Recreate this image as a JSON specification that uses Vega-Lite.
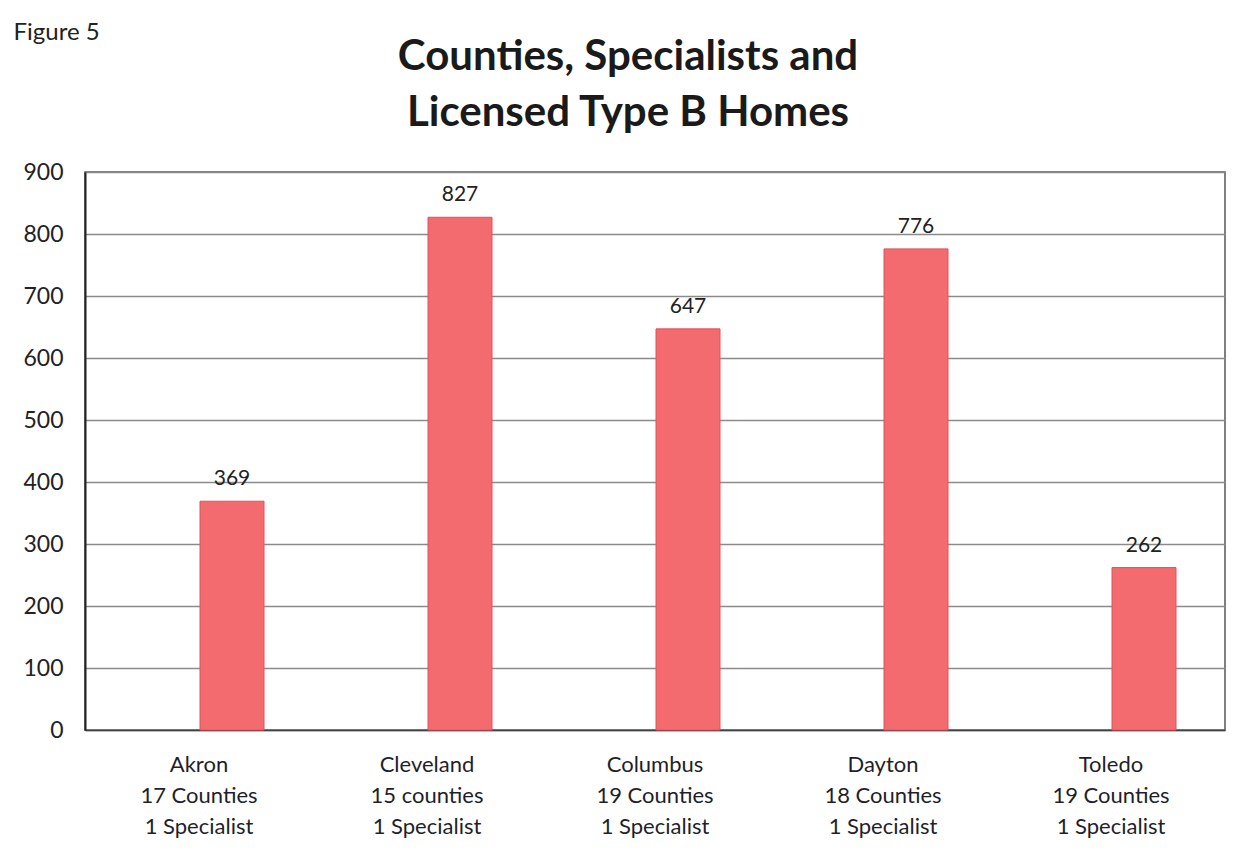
{
  "$schema": "https://vega.github.io/schema/vega-lite/v6.json",
  "width": 1140,
  "height": 558,
  "autosize": "none",
  "padding": {"left": 85, "top": 172, "right": 25, "bottom": 122},
  "background": "white",
  "config": {
    "font": "Lato",
    "view": {"stroke": "#555555", "strokeWidth": 1.5}
  },
  "title": {
    "text": ["Counties, Specialists and", "Licensed Type B Homes"],
    "fontSize": 42,
    "fontWeight": "bold",
    "font": "Lato",
    "color": "#1a1a1a",
    "anchor": "middle",
    "dx": -27,
    "offset": -115,
    "lineHeight": 56
  },
  "data": {
    "values": [
      {"label": "Akron|17 Counties|1 Specialist", "homes": 369},
      {"label": "Cleveland|15 counties|1 Specialist", "homes": 827},
      {"label": "Columbus|19 Counties|1 Specialist", "homes": 647},
      {"label": "Dayton|18 Counties|1 Specialist", "homes": 776},
      {"label": "Toledo|19 Counties|1 Specialist", "homes": 262}
    ]
  },
  "encoding": {
    "x": {
      "field": "label",
      "type": "nominal",
      "sort": null,
      "scale": {"paddingInner": 0, "paddingOuter": 0},
      "axis": {
        "title": null,
        "labelAngle": 0,
        "labelExpr": "split(datum.label, '|')",
        "labelFontSize": 22,
        "labelLineHeight": 31,
        "labelColor": "#1f1f2a",
        "labelPadding": 24,
        "labelFont": "Lato",
        "ticks": false,
        "domain": true,
        "domainColor": "#444444",
        "domainWidth": 1.5,
        "grid": false
      }
    },
    "y": {
      "field": "homes",
      "type": "quantitative",
      "scale": {"domain": [0, 900], "nice": false},
      "axis": {
        "values": [0, 100, 200, 300, 400, 500, 600, 700, 800, 900],
        "title": "Figure 5",
        "titleAngle": 0,
        "titleAlign": "left",
        "titleBaseline": "middle",
        "titleX": -72,
        "titleY": -140,
        "titleFontSize": 24,
        "titleFontWeight": "normal",
        "titleColor": "#222222",
        "labelFontSize": 23,
        "labelColor": "#222222",
        "labelPadding": 22,
        "ticks": false,
        "domainColor": "#222222",
        "domainWidth": 2,
        "gridColor": "#8a8a8a",
        "gridWidth": 1.3
      }
    }
  },
  "layer": [
    {
      "mark": {"type": "bar", "size": 64, "xOffset": 33, "fill": "#F36A6F", "stroke": "#E4505B", "strokeWidth": 1}
    },
    {
      "mark": {"type": "text", "xOffset": 33, "dy": -12, "fontSize": 21, "color": "#222222", "baseline": "bottom", "font": "Lato"},
      "encoding": {"text": {"field": "homes", "type": "quantitative"}}
    }
  ]
}
